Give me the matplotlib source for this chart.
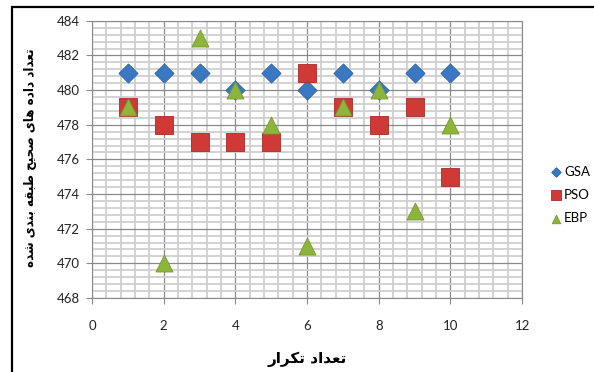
import matplotlib
matplotlib.use('Agg')
import matplotlib.pyplot as plt
from matplotlib.patches import Rectangle
from matplotlib.ticker import MultipleLocator

iterations = [1, 2, 3, 4, 5, 6, 7, 8, 9, 10]
gsa = [481, 481, 481, 480, 481, 480, 481, 480, 481, 481]
pso = [479, 478, 477, 477, 477, 481, 479, 478, 479, 475]
ebp = [479, 470, 483, 480, 478, 471, 479, 480, 473, 478]
x_label = 'تعداد تکرار'
y_label = 'تعداد داده های صحیح طبقه بندی شده'

# presentation forms: isolated, final, initial, medial (None = does not join forward)
FORMS = {
    'ا': (0xFE8D, 0xFE8E, None, None),
    'ب': (0xFE8F, 0xFE90, 0xFE91, 0xFE92),
    'ت': (0xFE95, 0xFE96, 0xFE97, 0xFE98),
    'ح': (0xFEA1, 0xFEA2, 0xFEA3, 0xFEA4),
    'د': (0xFEA9, 0xFEAA, None, None),
    'ر': (0xFEAD, 0xFEAE, None, None),
    'ش': (0xFEB5, 0xFEB6, 0xFEB7, 0xFEB8),
    'ص': (0xFEB9, 0xFEBA, 0xFEBB, 0xFEBC),
    'ط': (0xFEC1, 0xFEC2, 0xFEC3, 0xFEC4),
    'ع': (0xFEC9, 0xFECA, 0xFECB, 0xFECC),
    'ق': (0xFED5, 0xFED6, 0xFED7, 0xFED8),
    'ن': (0xFEE5, 0xFEE6, 0xFEE7, 0xFEE8),
    'ه': (0xFEE9, 0xFEEA, 0xFEEB, 0xFEEC),
    'ک': (0xFB8E, 0xFB8F, 0xFB90, 0xFB91),
    'ی': (0xFBFC, 0xFBFD, 0xFBFE, 0xFBFF),
}


def shape(text):
    out = []
    for i, ch in enumerate(text):
        if ch not in FORMS:
            out.append(ch)
            continue
        prev = text[i - 1] if i > 0 else ''
        nxt = text[i + 1] if i + 1 < len(text) else ''
        join_prev = prev in FORMS and FORMS[prev][2] is not None
        join_next = FORMS[ch][2] is not None and nxt in FORMS
        f = FORMS[ch]
        if join_prev and join_next:
            code = f[3]
        elif join_prev:
            code = f[1]
        elif join_next:
            code = f[2]
        else:
            code = f[0]
        out.append(chr(code))
    return ''.join(out)[::-1]


plt.rcParams['font.family'] = ['Lato', 'DejaVu Sans']

fig = plt.figure(figsize=(5.94, 3.72), dpi=100)
ax = fig.add_axes([0.155, 0.199, 0.724, 0.745])

ax.scatter(iterations, gsa, marker='D', s=95, color='#3a78c3', edgecolors='#2d62a3',
           linewidths=0.6, label='GSA', zorder=3)
ax.scatter(iterations, pso, marker='s', s=170, color='#cf3a36', edgecolors='#a82a27',
           linewidths=0.6, label='PSO', zorder=4)
ax.scatter(iterations, ebp, marker='^', s=150, color='#8db53c', edgecolors='#76992f',
           linewidths=0.6, label='EBP', zorder=5)

ax.set_xlim(0, 12)
ax.set_ylim(468, 484)
ax.xaxis.set_major_locator(MultipleLocator(2))
ax.yaxis.set_major_locator(MultipleLocator(2))
ax.xaxis.set_minor_locator(MultipleLocator(0.4))
ax.yaxis.set_minor_locator(MultipleLocator(0.4))
ax.grid(which='minor', color='#cfcfcf', lw=1.3, zorder=0)
ax.grid(which='major', color='#8a8a8a', lw=0.9, zorder=1)
ax.set_axisbelow(True)
ax.tick_params(which='minor', length=0)
ax.tick_params(which='major', length=4, color='#8a8a8a', labelsize=9.5,
               labelcolor='#222222', pad=5)
ax.tick_params(axis='x', pad=12)
for sp in ax.spines.values():
    sp.set_color('#8a8a8a')

ax.set_xlabel(shape(x_label), family=['DejaVu Sans'], fontsize=11,
              fontweight='bold', labelpad=14)
fig.text(0.052, 0.575, shape(y_label), family=['DejaVu Sans'], fontsize=9.5,
         fontweight='bold', fontstretch='condensed', rotation=90,
         ha='center', va='center')

leg = fig.legend(loc='center left', bbox_to_anchor=(0.905, 0.476), frameon=False,
                 fontsize=9.5, handletextpad=0.1, labelspacing=0.85,
                 markerscale=0.5, handlelength=1.0)

fig.patches.append(Rectangle((12 / 594, -0.2), 1.5, 1.2 - 7 / 372, transform=fig.transFigure,
                             fill=False, edgecolor='black', lw=1.6))

fig.savefig('out.png', dpi=100)
